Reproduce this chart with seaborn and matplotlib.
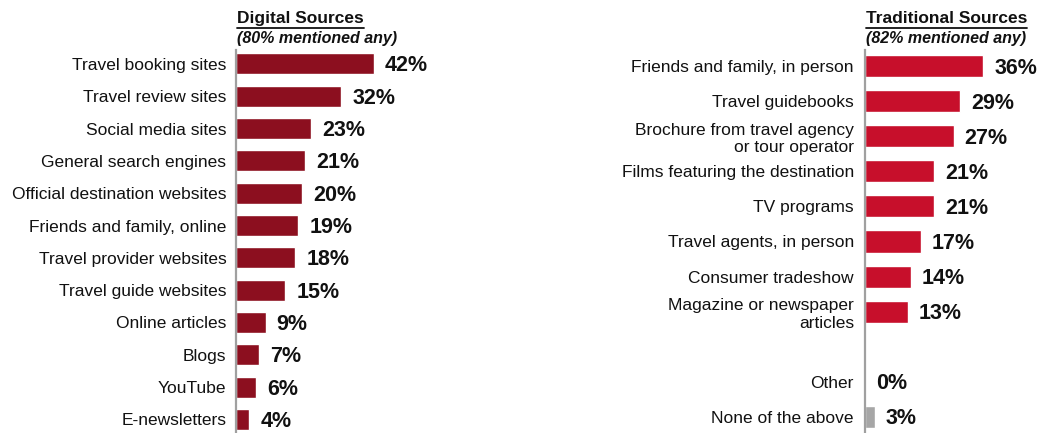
import matplotlib
matplotlib.use("Agg")
import matplotlib.pyplot as plt
import seaborn as sns
import pandas as pd
from matplotlib.lines import Line2D

digital_labels = ["Travel booking sites", "Travel review sites", "Social media sites",
                  "General search engines", "Official destination websites",
                  "Friends and family, online", "Travel provider websites",
                  "Travel guide websites", "Online articles", "Blogs", "YouTube",
                  "E-newsletters"]
digital_values = [42, 32, 23, 21, 20, 19, 18, 15, 9, 7, 6, 4]

trad_labels = ["Friends and family, in person", "Travel guidebooks",
               "Brochure from travel agency\nor tour operator",
               "Films featuring the destination", "TV programs",
               "Travel agents, in person", "Consumer tradeshow",
               "Magazine or newspaper\narticles", "Other", "None of the above"]
trad_values = [36, 29, 27, 21, 21, 17, 14, 13, 0, 3]

spacer = " "
trad_order = trad_labels[:8] + [spacer] + trad_labels[8:]

dark_red = "#8C0F1F"
bright_red = "#C70F2B"
gray = "#A6A6A6"
spine_col = "#A0A0A0"

sns.set_theme(style="white")
plt.rcParams['font.family'] = ['Liberation Sans', 'DejaVu Sans']

W, H = 1039, 433
fig = plt.figure(figsize=(W / 100, H / 100), dpi=100)

def px_axes(x0, y_top, width, y_bot):
    return fig.add_axes([x0 / W, 1 - y_bot / H, width / W, (y_bot - y_top) / H])

PX_PER_PCT = 3.28

# Left panel
ax1 = px_axes(236, 50, 50 * PX_PER_PCT, 433)
df1 = pd.DataFrame({"label": digital_labels, "value": digital_values})
sns.barplot(data=df1, x="value", y="label", order=digital_labels, color=dark_red,
            width=0.65, ax=ax1, saturation=1)
ax1.set_xlim(0, 50)
ax1.set_ylim(11.42, -0.43)

# Right panel
ax2 = px_axes(865, 50, 50 * PX_PER_PCT, 433)
df2 = pd.DataFrame({"label": trad_labels, "value": trad_values})
pal = {l: (gray if l == "None of the above" else bright_red) for l in trad_labels}
sns.barplot(data=df2, x="value", y="label", order=trad_order, hue="label",
            palette=pal, legend=False, width=0.63, ax=ax2, saturation=1)
ax2.set_xlim(0, 50)
ax2.set_ylim(10.46, -0.46)

for ax, labels, values, order in [(ax1, digital_labels, digital_values, digital_labels),
                                  (ax2, trad_labels, trad_values, trad_order)]:
    ax.set_xlabel("")
    ax.set_ylabel("")
    ax.set_xticks([])
    for s in ["top", "right", "bottom"]:
        ax.spines[s].set_visible(False)
    ax.spines["left"].set_color(spine_col)
    ax.spines["left"].set_linewidth(1.6)
    ax.tick_params(axis="y", length=0, pad=7 if ax is ax1 else 8,
                   labelsize=12.5, labelcolor="#111111")
    for lab, val in zip(labels, values):
        yi = order.index(lab)
        ax.text(val + 3.4, yi + 0.06, f"{val}%", va="center", ha="left",
                fontsize=15.5, fontweight="bold", color="#111111")
    ax.set_facecolor("none")

fig.text(237 / W, 1 - 23 / H, "Digital Sources", fontsize=12.5, fontweight="bold",
         ha="left", va="baseline", color="#111111")
fig.text(237 / W, 1 - 43 / H, "(80% mentioned any)", fontsize=11.5, fontweight="bold",
         style="italic", ha="left", va="baseline", color="#111111")
fig.text(866 / W, 1 - 23 / H, "Traditional Sources", fontsize=12.5, fontweight="bold",
         ha="left", va="baseline", color="#111111")
fig.text(866 / W, 1 - 43 / H, "(82% mentioned any)", fontsize=11.5, fontweight="bold",
         style="italic", ha="left", va="baseline", color="#111111")

# underlines for titles
fig.canvas.draw()
rend = fig.canvas.get_renderer()
for t in fig.texts:
    if "Sources" in t.get_text():
        bb = t.get_window_extent(rend)
        y = bb.y0 - 1.5
        fig.add_artist(Line2D([bb.x0 / W, bb.x1 / W], [y / H, y / H], color="#111111",
                              linewidth=1.3, transform=fig.transFigure))

fig.savefig("out.png", dpi=100)
